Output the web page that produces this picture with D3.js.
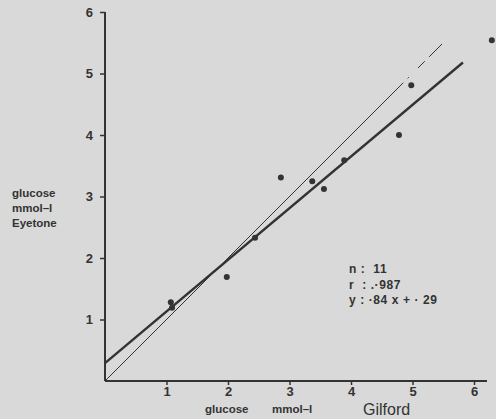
<!DOCTYPE html>
<html><head><meta charset="utf-8">
<script src="https://cdn.jsdelivr.net/npm/d3@7"></script>
<style>body{margin:0;background:#d9d9d9}svg{display:block}text{font-family:"Liberation Sans",Arial,sans-serif;fill:#333;white-space:pre}</style>
</head><body><svg id="c" width="496" height="419"></svg>
<script>
const gilford = [1.07, 1.09, 1.98, 2.44, 2.86, 3.37, 3.56, 3.89, 4.78, 4.98, 6.29];
const eyetone = [1.28, 1.19, 1.69, 2.33, 3.31, 3.25, 3.12, 3.59, 4.00, 4.81, 5.54];
const xTicks = [1, 2, 3, 4, 5, 6];
const yTicks = [1, 2, 3, 4, 5, 6];
const slope = 0.84, intercept = 0.29, regEnd = 5.82;
const identitySolidEnd = 4.85, identityDashes = [[4.92, 4.94], [5.09, 5.2], [5.27, 5.48]];
const statLines = ["n :  11", "r  : .\u00B7987", "y : \u00B784 x + \u00B7 29"];

const svg = d3.select("#c");
const ink = "#333";
const x = d3.scaleLinear().domain([0, 6]).range([105, 474]);
const y = d3.scaleLinear().domain([0, 6]).range([381, 12]);

// axes
const xAxis = d3.axisBottom(x).tickValues(xTicks).tickSize(4).tickPadding(2).tickFormat(d3.format("d"));
const gx = svg.append("g").attr("transform", "translate(0,381)").call(xAxis);
gx.select(".domain").attr("d", `M105,0H487`).attr("stroke", ink).attr("stroke-width", 2);
gx.selectAll(".tick line").attr("stroke", ink).attr("stroke-width", 1.5);
gx.selectAll(".tick text").attr("font-size", 13).attr("font-family", "Liberation Sans").attr("fill", ink).attr("font-weight", "bold");

const yAxis = d3.axisLeft(y).tickValues(yTicks).tickSize(5).tickPadding(7).tickFormat(d3.format("d"));
const gy = svg.append("g").attr("transform", "translate(105,0)").call(yAxis);
gy.select(".domain").attr("d", `M0,${y(6)}V381`).attr("stroke", ink).attr("stroke-width", 2);
gy.selectAll(".tick line").attr("stroke", ink).attr("stroke-width", 1.5);
gy.selectAll(".tick text").attr("font-size", 13).attr("font-family", "Liberation Sans").attr("fill", ink).attr("font-weight", "bold");

// identity line
svg.append("line").attr("x1", x(0)).attr("y1", y(0)).attr("x2", x(identitySolidEnd)).attr("y2", y(identitySolidEnd))
  .attr("stroke", ink).attr("stroke-width", 1);
identityDashes.forEach(([a, b]) => {
  svg.append("line").attr("x1", x(a)).attr("y1", y(a)).attr("x2", x(b)).attr("y2", y(b))
    .attr("stroke", ink).attr("stroke-width", 1);
});

// regression line
svg.append("line").attr("x1", x(0)).attr("y1", y(intercept)).attr("x2", x(regEnd)).attr("y2", y(slope * regEnd + intercept))
  .attr("stroke", ink).attr("stroke-width", 2.4);

// points
svg.append("g").selectAll("circle").data(gilford).join("circle")
  .attr("cx", d => x(d)).attr("cy", (d, i) => y(eyetone[i])).attr("r", 3).attr("fill", ink);

// y title
["glucose", "mmol\u2013l", "Eyetone"].forEach((t, i) => {
  svg.append("text").attr("x", 12).attr("y", 197 + i * 15).attr("font-size", 11.5).attr("font-weight", "bold").text(t);
});

// x title
svg.append("text").attr("x", 205).attr("y", 413).attr("font-size", 11.5).attr("font-weight", "bold").text("glucose");
svg.append("text").attr("x", 272).attr("y", 413).attr("font-size", 11.5).attr("font-weight", "bold").text("mmol\u2013l");
svg.append("text").attr("x", 363).attr("y", 415).attr("font-size", 16).text("Gilford");

// stats
statLines.forEach((t, i) => {
  svg.append("text").attr("x", 349).attr("y", 273 + i * 15.5).attr("font-size", 12).attr("font-weight", "bold")
    .attr("letter-spacing", 0.6).text(t);
});
</script></body></html>
